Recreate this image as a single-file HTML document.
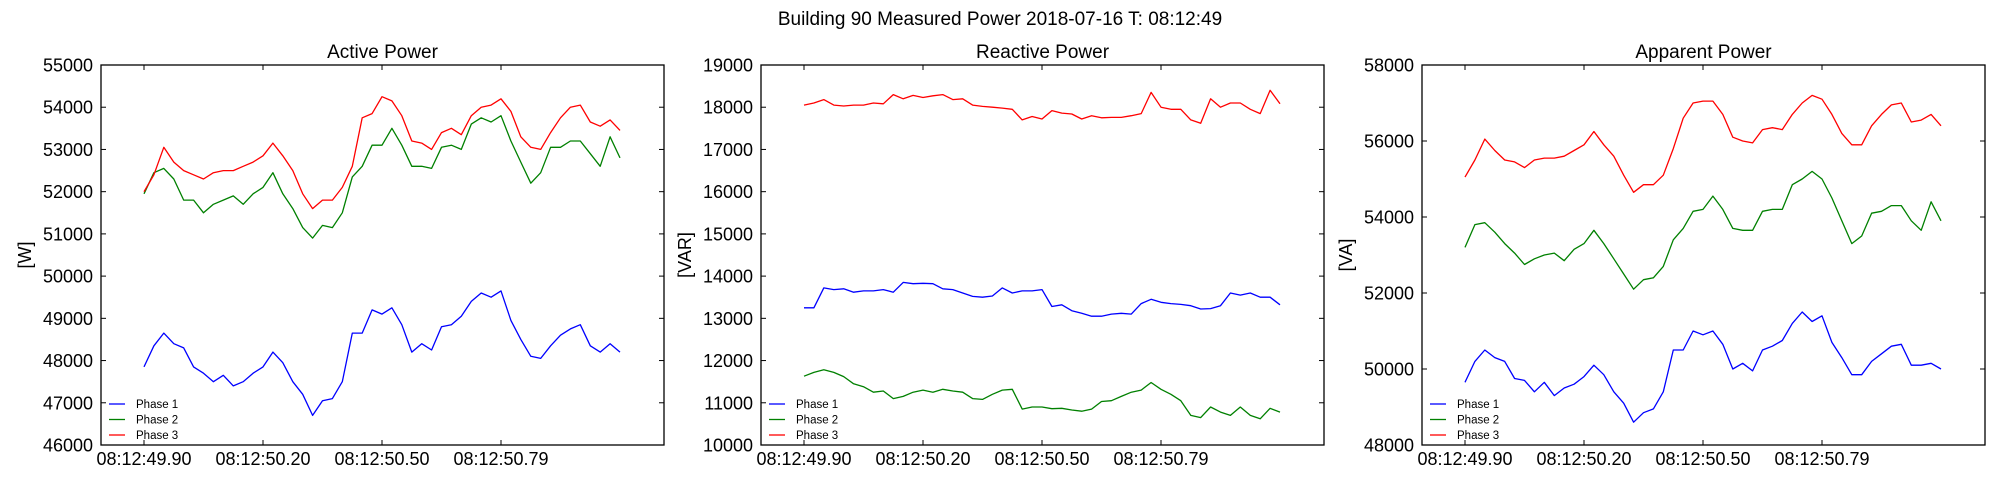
<!DOCTYPE html>
<html><head><meta charset="utf-8"><style>
html,body{margin:0;padding:0;background:#fff;}
svg{display:block;font-family:"Liberation Sans","DejaVu Sans",sans-serif;}
</style></head><body>
<svg id="chart" width="2000" height="500" viewBox="0 0 2000 500">
<text x="1000" y="25" font-size="19" text-anchor="middle">Building 90 Measured Power 2018-07-16 T: 08:12:49</text>
</svg>
<script>
const xTickValues = [0, 0.3, 0.6, 0.9];
const xTickLabels = ["08:12:49.90", "08:12:50.20", "08:12:50.50", "08:12:50.79"];
const seriesNames = ["Phase 1", "Phase 2", "Phase 3"];
const seriesColors = ["#0000ff", "#008000", "#ff0000"];
const panelTitles = ["Active Power", "Reactive Power", "Apparent Power"];
const panelUnits = ["[W]", "[VAR]", "[VA]"];
const activeTicks = [46000,47000,48000,49000,50000,51000,52000,53000,54000,55000];
const reactiveTicks = [10000,11000,12000,13000,14000,15000,16000,17000,18000,19000];
const apparentTicks = [48000,50000,52000,54000,56000,58000];

const activeP1 = [47850,48350,48650,48400,48300,47850,47700,47500,47650,47400,47500,47700,47850,48200,47950,47500,47200,46700,47050,47100,47500,48650,48650,49200,49100,49250,48850,48200,48400,48250,48800,48850,49050,49400,49600,49500,49650,48950,48500,48100,48050,48350,48600,48750,48850,48350,48200,48400,48200];
const activeP2 = [51950,52450,52550,52300,51800,51800,51500,51700,51800,51900,51700,51950,52100,52450,51950,51600,51150,50900,51200,51150,51500,52350,52600,53100,53100,53500,53100,52600,52600,52550,53050,53100,53000,53600,53750,53650,53800,53200,52700,52200,52450,53050,53050,53200,53200,52900,52600,53300,52800];
const activeP3 = [52000,52400,53050,52700,52500,52400,52300,52450,52500,52500,52600,52700,52850,53150,52850,52500,51950,51600,51800,51800,52100,52600,53750,53850,54250,54150,53800,53200,53150,53000,53400,53500,53350,53800,54000,54050,54200,53900,53300,53050,53000,53400,53750,54000,54050,53650,53550,53700,53450];

const reactiveP1 = [13250,13250,13720,13680,13700,13620,13650,13650,13680,13620,13850,13820,13830,13820,13700,13680,13600,13520,13500,13530,13720,13600,13650,13650,13680,13280,13320,13180,13120,13050,13050,13100,13120,13100,13350,13450,13380,13350,13330,13300,13220,13230,13300,13600,13550,13600,13500,13500,13320];
const reactiveP2 = [11630,11720,11780,11720,11620,11450,11380,11250,11280,11100,11150,11250,11300,11250,11320,11280,11250,11100,11080,11200,11300,11320,10850,10900,10900,10860,10870,10830,10800,10850,11030,11050,11150,11250,11300,11480,11320,11200,11050,10700,10650,10900,10780,10700,10900,10700,10620,10870,10780];
const reactiveP3 = [18050,18100,18180,18050,18030,18050,18050,18100,18080,18300,18200,18280,18230,18270,18300,18180,18200,18050,18020,18000,17980,17950,17700,17780,17720,17920,17860,17840,17720,17800,17750,17760,17760,17800,17850,18350,18000,17950,17950,17700,17620,18200,18000,18100,18100,17950,17850,18400,18080];

const apparentP1 = [49650,50200,50500,50300,50200,49750,49700,49400,49650,49300,49500,49600,49800,50100,49850,49400,49100,48600,48850,48950,49400,50500,50500,51000,50900,51000,50650,50000,50150,49950,50500,50600,50750,51200,51500,51250,51400,50700,50300,49850,49850,50200,50400,50600,50650,50100,50100,50150,50000];
const apparentP2 = [53200,53800,53850,53600,53300,53050,52750,52900,53000,53050,52850,53150,53300,53650,53300,52900,52500,52100,52350,52400,52700,53400,53700,54150,54200,54550,54200,53700,53650,53650,54150,54200,54200,54850,55000,55200,55000,54500,53900,53300,53500,54100,54150,54300,54300,53900,53650,54400,53900];
const apparentP3 = [55050,55500,56050,55750,55500,55450,55300,55500,55550,55550,55600,55750,55900,56250,55900,55600,55100,54650,54850,54850,55100,55800,56600,57000,57050,57050,56700,56100,56000,55950,56300,56350,56300,56700,57000,57200,57100,56700,56200,55900,55900,56400,56700,56950,57000,56500,56550,56700,56400];

const timeSpan = 1.2;
const NS = "http://www.w3.org/2000/svg";
const svgRoot = document.getElementById("chart");

function mk(tag, attrs, parent) {
  const e = document.createElementNS(NS, tag);
  for (const k in attrs) e.setAttribute(k, attrs[k]);
  (parent || svgRoot).appendChild(e);
  return e;
}

const panels = [
  {left:101, ticks:activeTicks, series:[activeP1, activeP2, activeP3], key:"active"},
  {left:761, ticks:reactiveTicks, series:[reactiveP1, reactiveP2, reactiveP3], key:"reactive"},
  {left:1422, ticks:apparentTicks, series:[apparentP1, apparentP2, apparentP3], key:"apparent"}
];
const axTop = 65, axBottom = 445, axW = 563;

panels.forEach((p, pi) => {
  const g = mk("g", {});
  
  
  const yMin = p.ticks[0], yMax = p.ticks[p.ticks.length - 1];
  const xs = t => p.left + 43 + t / timeSpan * 476;
  const ys = v => axBottom - (v - yMin) / (yMax - yMin) * (axBottom - axTop);

  const title = mk("text", {x: p.left + axW / 2, y: 58, "font-size": 19, "text-anchor": "middle"}, g);
  title.textContent = panelTitles[pi];
  
  

  const yl = mk("text", {x: 0, y: 0, "font-size": 18, "text-anchor": "middle",
    transform: `translate(${p.left - 70},255) rotate(-90)`}, g);
  yl.textContent = panelUnits[pi];
  
  

  p.ticks.forEach(v => {
    const y = ys(v);
    mk("line", {x1: p.left, x2: p.left + 5, y1: y, y2: y, stroke: "#000", "stroke-width": 1}, g);
    mk("line", {x1: p.left + axW - 5, x2: p.left + axW, y1: y, y2: y, stroke: "#000", "stroke-width": 1}, g);
    const tl = mk("text", {x: p.left - 8, y: y + 6.5, "font-size": 18, "text-anchor": "end"}, g);
    tl.textContent = v;
    
    
  });
  xTickValues.forEach((t, i) => {
    const x = xs(t);
    mk("line", {x1: x, x2: x, y1: axBottom, y2: axBottom - 5, stroke: "#000", "stroke-width": 1}, g);
    mk("line", {x1: x, x2: x, y1: axTop, y2: axTop + 5, stroke: "#000", "stroke-width": 1}, g);
    const tl = mk("text", {x: x, y: 465, "font-size": 18, "text-anchor": "middle"}, g);
    tl.textContent = xTickLabels[i];
    
    
  });

  p.series.forEach((vals, si) => {
    const n = vals.length;
    const d = vals.map((v, i) => (i ? "L" : "M") + xs(i / (n - 1) * timeSpan).toFixed(1) + "," + ys(v).toFixed(1)).join("");
    const path = mk("path", {d: d, fill: "none", stroke: seriesColors[si], "stroke-width": 1.3, "stroke-linejoin": "round"}, g);
    
    
  });

  const frame = mk("rect", {x: p.left, y: axTop, width: axW, height: axBottom - axTop, fill: "none", stroke: "#000", "stroke-width": 1.3}, g);
  
  

  seriesNames.forEach((nm, si) => {
    const ly = 404 + si * 15.5;
    const le = mk("g", {}, g);
    
    
    mk("line", {x1: p.left + 8, x2: p.left + 24, y1: ly, y2: ly, stroke: seriesColors[si], "stroke-width": 1.3}, le);
    const t = mk("text", {x: p.left + 35, y: ly + 4, "font-size": 11.5}, le);
    t.textContent = nm;
  });
});
</script>
</body></html>
